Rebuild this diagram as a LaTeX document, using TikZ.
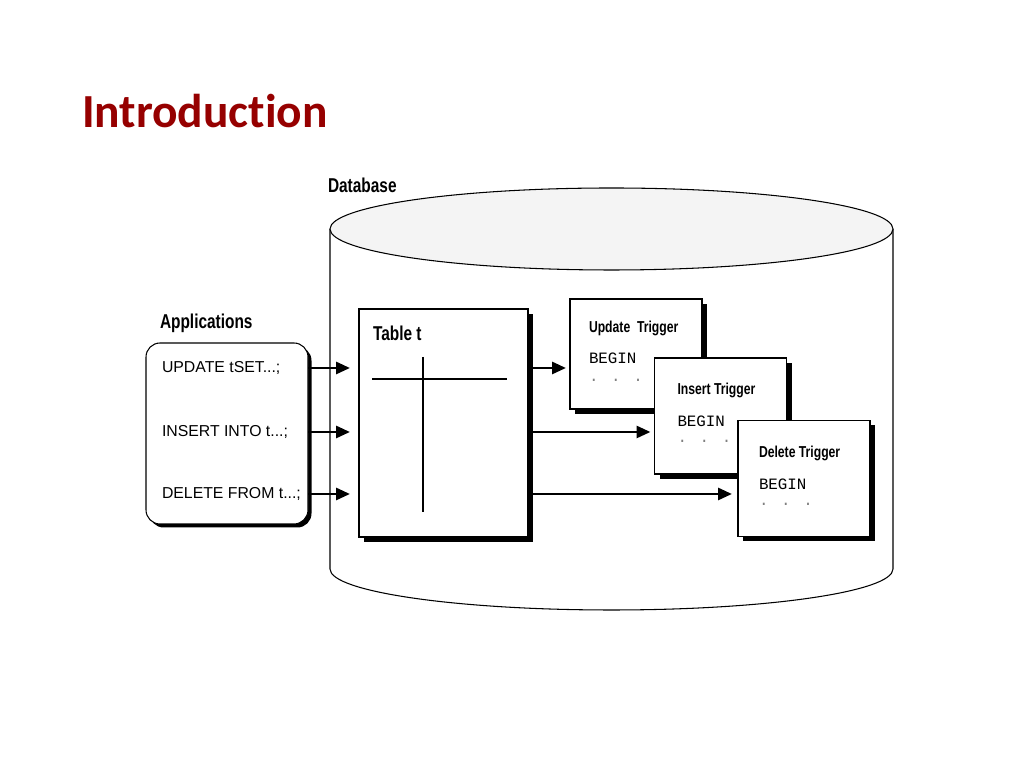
\documentclass[tikz,border=0pt]{standalone}
\usepackage{fontspec}
\usepackage{tikz}
\usetikzlibrary{arrows.meta, positioning, shadows}
\newfontfamily\titlefont[Ligatures=NoCommon]{Carlito}
\newfontfamily\headfont[FakeStretch=0.77]{Liberation Sans}
\newfontfamily\sqlfont{Liberation Sans}
\newfontfamily\codefont{Liberation Mono}
\definecolor{titlered}{RGB}{150,0,0}
\definecolor{lidgray}{RGB}{244,244,244}

\begin{document}
\begin{tikzpicture}[
every node/.style={inner sep=0pt, outer sep=0pt},
box/.style={rectangle, draw=black, line width=0.6pt, fill=white, drop shadow={shadow xshift=0.1cm, shadow yshift=-0.1cm, fill=black, opacity=1}},
appbox/.style={rectangle, rounded corners=8pt, draw=black, line width=0.6pt, fill=white, minimum width=3.24cm, minimum height=3.62cm, drop shadow={shadow xshift=0.07cm, shadow yshift=-0.07cm, fill=black, opacity=1}},
trigger/.style={box, minimum width=2.64cm, minimum height=2.32cm},
heading/.style={font=\headfont\bfseries\fontsize{11.4}{13}\selectfont, anchor=base west},
trighead/.style={font=\headfont\bfseries\fontsize{9}{11}\selectfont, anchor=base west},
sql/.style={font=\sqlfont\fontsize{9}{11}\selectfont, anchor=west},
code/.style={font=\codefont\fontsize{9}{11}\selectfont, anchor=base west},
arrow/.style={-{Triangle[length=0.28cm, width=0.24cm]}, line width=1.6pt},
cyl/.style={draw=black, line width=0.6pt}
]
\useasboundingbox[fill=white] (0,0) rectangle (20.48,15.36);
% Title
\node[font=\titlefont\bfseries\fontsize{27}{31}\selectfont, text=titlered, anchor=base west] (title) at (1.64,12.8) {Introduction};
% Database cylinder
\draw[cyl] (6.6,10.78) -- (6.6,3.98) arc[start angle=180, end angle=360, x radius=5.63, y radius=0.82] -- (17.86,10.78);
\draw[cyl, fill=lidgray] (12.23,10.78) ellipse[x radius=5.63, y radius=0.82];
\node[heading] (dblabel) at (6.56,11.5) {Database};
% Applications
\node[heading] (applabel) at (3.2,8.78) {Applications};
\node[appbox] (apps) at (4.54,6.69) {};
\node[sql] (upd) at (3.24,8.0) {UPDATE tSET...;};
\node[sql] (ins) at (3.24,6.72) {INSERT INTO t...;};
\node[sql] (del) at (3.24,5.48) {DELETE FROM t...;};
% Table t
\node[box, minimum width=3.38cm, minimum height=4.56cm] (tbl) at (8.87,6.9) {};
\node[heading] (tbllabel) at ([shift={(0.28,-0.64)}]tbl.north west) {Table t};
\draw[line width=0.6pt] ([shift={(0.26,-1.4)}]tbl.north west) -- ++(2.7,0);
\draw[line width=0.6pt] ([shift={(1.28,-0.96)}]tbl.north west) -- ++(0,-3.1);
% Triggers
\node[trigger, minimum height=2.2cm] (utrig) at (12.72,8.28) {};
\node[trighead] (uhead) at ([shift={(0.38,-0.68)}]utrig.north west) {Update\ \ Trigger};
\node[code] (ubegin) at ([shift={(0.38,-1.3)}]utrig.north west) {BEGIN};
\node[code, text=gray] (udots) at ([shift={(0.38,-1.66)}]utrig.north west) {. . .};
\node[trigger] (itrig) at (14.41,7.04) {};
\node[trighead] (ihead) at ([shift={(0.46,-0.74)}]itrig.north west) {Insert Trigger};
\node[code] (ibegin) at ([shift={(0.46,-1.38)}]itrig.north west) {BEGIN};
\node[code, text=gray] (idots) at ([shift={(0.46,-1.7)}]itrig.north west) {. . .};
\node[trigger] (dtrig) at (16.08,5.79) {};
\node[trighead] (dhead) at ([shift={(0.42,-0.74)}]dtrig.north west) {Delete Trigger};
\node[code] (dbegin) at ([shift={(0.42,-1.38)}]dtrig.north west) {BEGIN};
\node[code, text=gray] (ddots) at ([shift={(0.42,-1.7)}]dtrig.north west) {. . .};
% Arrows
\draw[arrow, shorten >=0.18cm] (upd.east -| apps.east) -- (upd.east -| tbl.west);
\draw[arrow, shorten >=0.18cm] (ins.east -| apps.east) -- (ins.east -| tbl.west);
\draw[arrow, shorten >=0.18cm] (del.east -| apps.east) -- (del.east -| tbl.west);
\draw[arrow, shorten >=0.08cm] (upd.east -| tbl.east) -- (upd.east -| utrig.west);
\draw[arrow, shorten >=0.08cm] (ins.east -| tbl.east) -- (ins.east -| itrig.west);
\draw[arrow, shorten >=0.12cm] (del.east -| tbl.east) -- (del.east -| dtrig.west);
\end{tikzpicture}
\end{document}
